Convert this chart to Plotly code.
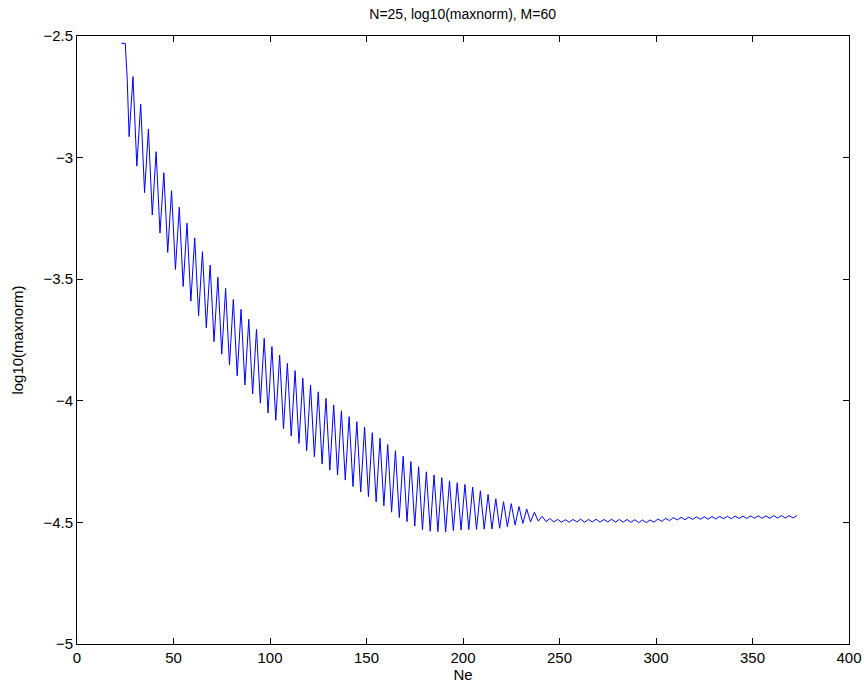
import plotly.graph_objects as go

# Leading points before the oscillation starts
start_ne = [23, 25, 26]
start_val = [-2.53, -2.53, -2.674]

# Upper (peak) points of the oscillation
peak_ne = [29, 33, 37, 41, 45, 49, 53, 57, 61, 65, 69, 73, 77, 81, 85, 89, 93, 97,
           101, 105, 109, 113, 117, 121, 125, 129, 133, 137, 141, 145, 149, 153, 157,
           161, 165, 169, 173, 177, 181, 185, 189, 193, 197, 201, 205, 209, 213, 217,
           221, 225, 229, 233, 237, 241, 245, 249, 253, 257, 261, 265, 269, 273, 277,
           281, 285, 289, 293, 297, 301, 305, 309, 313, 317, 321, 325, 329, 333, 337,
           341, 345, 349, 353, 357, 361, 365, 369, 373]
peak_val = [-2.667, -2.780, -2.882, -2.976, -3.062, -3.136, -3.204, -3.270, -3.330,
            -3.387, -3.442, -3.492, -3.538, -3.583, -3.624, -3.665, -3.706, -3.743,
            -3.777, -3.812, -3.846, -3.876, -3.907, -3.935, -3.963, -3.990, -4.017,
            -4.041, -4.065, -4.086, -4.108, -4.131, -4.154, -4.180, -4.205, -4.228,
            -4.250, -4.271, -4.292, -4.305, -4.316, -4.329, -4.337, -4.344, -4.355,
            -4.370, -4.385, -4.403, -4.415, -4.423, -4.435, -4.445, -4.458, -4.475,
            -4.484, -4.488, -4.489, -4.488, -4.487, -4.488, -4.487, -4.488, -4.487,
            -4.488, -4.488, -4.489, -4.490, -4.490, -4.486, -4.483, -4.480, -4.479,
            -4.478, -4.477, -4.477, -4.476, -4.475, -4.475, -4.474, -4.474, -4.473,
            -4.473, -4.473, -4.472, -4.472, -4.472, -4.472]

# Lower (trough) points of the oscillation
trough_ne = [27, 31, 35, 39, 43, 47, 51, 55, 59, 63, 67, 71, 75, 79, 83, 87, 91, 95,
             99, 103, 107, 111, 115, 119, 123, 127, 131, 135, 139, 143, 147, 151, 155,
             159, 163, 167, 171, 175, 179, 183, 187, 191, 195, 199, 203, 207, 211, 215,
             219, 223, 227, 231, 235, 239, 243, 247, 251, 255, 259, 263, 267, 271, 275,
             279, 283, 287, 291, 295, 299, 303, 307, 311, 315, 319, 323, 327, 331, 335,
             339, 343, 347, 351, 355, 359, 363, 367, 371]
trough_val = [-2.914, -3.035, -3.144, -3.236, -3.310, -3.390, -3.460, -3.530, -3.590,
              -3.650, -3.700, -3.757, -3.808, -3.853, -3.897, -3.935, -3.972, -4.010,
              -4.050, -4.080, -4.115, -4.145, -4.175, -4.205, -4.230, -4.260, -4.285,
              -4.305, -4.326, -4.353, -4.375, -4.394, -4.415, -4.432, -4.458, -4.480,
              -4.497, -4.515, -4.530, -4.536, -4.538, -4.540, -4.534, -4.531, -4.530,
              -4.529, -4.528, -4.527, -4.524, -4.518, -4.511, -4.504, -4.498, -4.495,
              -4.497, -4.498, -4.499, -4.499, -4.498, -4.499, -4.498, -4.499, -4.498,
              -4.499, -4.499, -4.500, -4.501, -4.501, -4.499, -4.496, -4.493, -4.490,
              -4.489, -4.488, -4.487, -4.487, -4.486, -4.485, -4.485, -4.484, -4.484,
              -4.483, -4.483, -4.483, -4.482, -4.482, -4.482]

x_ticks = [0, 50, 100, 150, 200, 250, 300, 350, 400]
y_ticks = [-5, -4.5, -4, -3.5, -3, -2.5]

pairs = list(zip(start_ne, start_val)) + list(zip(peak_ne, peak_val)) + list(zip(trough_ne, trough_val))
pairs.sort(key=lambda p: p[0])
ne = [p[0] for p in pairs]
vals = [p[1] for p in pairs]

FONT = "Liberation Sans, Arial, Helvetica, sans-serif"

fig = go.Figure()
fig.add_trace(go.Scatter(x=ne, y=vals, mode="lines",
                         line=dict(color="#0000ff", width=1), showlegend=False))

axis_common = dict(showline=True, linecolor="#000000", linewidth=1, mirror="ticks",
                   ticks="inside", ticklen=6, tickcolor="#000000", showgrid=False,
                   zeroline=False, automargin=False,
                   tickfont=dict(family=FONT, size=15, color="#000000"))

fig.update_layout(
    width=864, height=688,
    margin=dict(l=77, r=15, t=36, b=44),
    paper_bgcolor="white", plot_bgcolor="white",
    font=dict(family=FONT, size=15, color="#000000"),
    title=dict(text="N=25, log10(maxnorm), M=60", x=0.5355, xanchor="center",
               y=1 - 14 / 688, yanchor="middle",
               font=dict(family=FONT, size=14, color="#000000")),
    xaxis=dict(range=[0, 400], tickvals=x_ticks,
               title=dict(text="Ne", standoff=4, font=dict(family=FONT, size=15)),
               **axis_common),
    yaxis=dict(range=[-5, -2.5], tickvals=y_ticks,
               title=dict(text="log10(maxnorm)", standoff=16, font=dict(family=FONT, size=15)),
               **axis_common),
)

fig.write_html("out.html")
